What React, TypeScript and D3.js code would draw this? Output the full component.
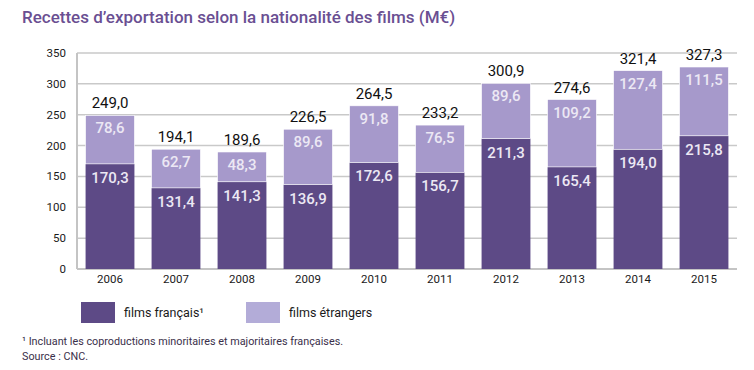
import React, { useRef, useEffect } from 'react'
import * as d3 from 'd3'

const years = ['2006', '2007', '2008', '2009', '2010', '2011', '2012', '2013', '2014', '2015']
const francais = [170.3, 131.4, 141.3, 136.9, 172.6, 156.7, 211.3, 165.4, 194.0, 215.8]
const etrangers = [78.6, 62.7, 48.3, 89.6, 91.8, 76.5, 89.6, 109.2, 127.4, 111.5]
const totals = [249.0, 194.1, 189.6, 226.5, 264.5, 233.2, 300.9, 274.6, 321.4, 327.3]
const yTicks = [0, 50, 100, 150, 200, 250, 300, 350]
const seriesNames = ['films français¹', 'films étrangers']

const fmt = (v: number) => v.toFixed(1).replace('.', ',')

export default function App() {
    const visEl = useRef<SVGSVGElement>(null)
    const width = 754
    const height = 370

    useEffect(() => {
        const svg = d3.select(visEl.current)
        svg.selectAll('*').remove()
        const font = 'Roboto, "DejaVu Sans", sans-serif'
        const dark = '#5d4a86'
        const light = '#a699cb'

        const left = 77, right = 737, top = 53, bottom = 269

        const x = d3.scaleBand<string>()
            .domain(years)
            .range([left, right])
            .paddingInner(0.26)
            .paddingOuter(0.13)
        const y = d3.scaleLinear().domain([0, 350]).range([bottom, top])

        // title
        svg.append('text')
            .attr('x', 22).attr('y', 23)
            .attr('font-family', font).attr('font-size', 17).attr('font-weight', 500)
            .attr('fill', '#6a4f92')
            .text('Recettes d\u2019exportation selon la nationalité des films (M€)')

        // gridlines
        svg.append('g').selectAll('line').data(yTicks.filter(d => d > 0)).enter().append('line')
            .attr('x1', left).attr('x2', right)
            .attr('y1', d => y(d)).attr('y2', d => y(d))
            .attr('stroke', '#c9c9c9').attr('stroke-width', 1.5)

        svg.append('line')
            .attr('x1', left).attr('x2', left).attr('y1', top).attr('y2', bottom)
            .attr('stroke', '#c4c4c4').attr('stroke-width', 2)
        svg.append('line')
            .attr('x1', left).attr('x2', right).attr('y1', bottom).attr('y2', bottom)
            .attr('stroke', '#c4c4c4').attr('stroke-width', 2)

        // y tick labels
        svg.append('g').selectAll('text').data(yTicks).enter().append('text')
            .attr('x', 66).attr('y', d => y(d) + 4)
            .attr('text-anchor', 'end')
            .attr('font-family', font).attr('font-size', 11.5).attr('fill', '#1a1a1a')
            .text(d => d)

        // bars
        const g = svg.append('g')
        years.forEach((yr, i) => {
            const bx = x(yr)!
            const bw = x.bandwidth()
            const f = francais[i]
            const e = etrangers[i]
            g.append('rect')
                .attr('x', bx).attr('width', bw)
                .attr('y', y(f)).attr('height', y(0) - y(f))
                .attr('fill', dark)
            g.append('rect')
                .attr('x', bx).attr('width', bw)
                .attr('y', y(f + e)).attr('height', y(f) - y(f + e))
                .attr('fill', light)
                .attr('stroke', '#ffffff').attr('stroke-width', 0.6)
            g.append('text')
                .attr('x', bx + bw / 2).attr('y', y(f) + 19)
                .attr('text-anchor', 'middle')
                .attr('font-family', font).attr('font-size', 15).attr('font-weight', 500)
                .attr('fill', '#ece8f4')
                .text(fmt(f))
            g.append('text')
                .attr('x', bx + bw / 2).attr('y', y(f + e) + 18)
                .attr('text-anchor', 'middle')
                .attr('font-family', font).attr('font-size', 15).attr('font-weight', 500)
                .attr('fill', '#ece8f4')
                .text(fmt(e))
            g.append('text')
                .attr('x', bx + bw / 2).attr('y', y(totals[i]) - 7)
                .attr('text-anchor', 'middle')
                .attr('font-family', font).attr('font-size', 15)
                .attr('fill', '#111111')
                .text(fmt(totals[i]))
            g.append('text')
                .attr('x', bx + bw / 2).attr('y', 283)
                .attr('text-anchor', 'middle')
                .attr('font-family', font).attr('font-size', 11.5)
                .attr('fill', '#1a1a1a')
                .text(yr)
        })

        // legend
        const legend = [
            { name: seriesNames[0], color: dark, x: 81 },
            { name: seriesNames[1], color: '#b3acd8', x: 246 },
        ]
        legend.forEach(l => {
            svg.append('rect')
                .attr('x', l.x).attr('y', 302).attr('width', 34).attr('height', 21)
                .attr('fill', l.color)
            svg.append('text')
                .attr('x', l.x + 43).attr('y', 317)
                .attr('font-family', font).attr('font-size', 12.5)
                .attr('fill', '#1a1a1a')
                .text(l.name)
        })

        // footnotes
        svg.append('text')
            .attr('x', 22).attr('y', 345)
            .attr('font-family', font).attr('font-size', 10.8).attr('fill', '#3a2f4a')
            .text('¹ Incluant les coproductions minoritaires et majoritaires françaises.')
        svg.append('text')
            .attr('x', 22).attr('y', 360)
            .attr('font-family', font).attr('font-size', 10.8).attr('fill', '#3a2f4a')
            .text('Source : CNC.')
    }, [])

    return (
        <svg ref={visEl} width={width} height={height}
            style={{ position: 'absolute', left: 0, top: 0, background: '#ffffff' }} />
    )
}
